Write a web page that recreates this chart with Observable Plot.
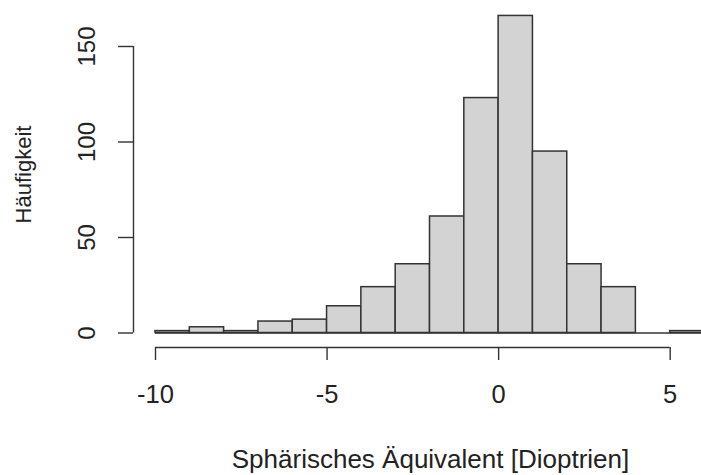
<!DOCTYPE html>
<html><head><meta charset="utf-8">
<script src="https://cdn.jsdelivr.net/npm/d3@7"></script>
<script src="https://cdn.jsdelivr.net/npm/@observablehq/plot@0.6"></script>
<style>body{margin:0;background:#fff}</style>
</head><body><div id="chart"></div>
<script>
const binLower = [-10, -9, -8, -7, -6, -5, -4, -3, -2, -1, 0, 1, 2, 3, 4, 5];
const binUpper = [-9, -8, -7, -6, -5, -4, -3, -2, -1, 0, 1, 2, 3, 4, 5, 6];
const counts   = [1, 3, 1, 6, 7, 14, 24, 36, 61, 123, 166, 95, 36, 24, 0, 1];
const xTicks = [-10, -5, 0, 5];
const yTicks = [0, 50, 100, 150];
const xLabel = "Sphärisches Äquivalent [Dioptrien]";
const yLabel = "Häufigkeit";

const bars = binLower.map((lo, i) => ({x1: lo, x2: binUpper[i], count: counts[i]}));
const ink = "#333";
const font = "'Liberation Sans', Arial, sans-serif";

const chart = Plot.plot({
  width: 701, height: 475,
  marginLeft: 133, marginRight: 0, marginTop: 1, marginBottom: 128,
  style: {fontFamily: font, fontSize: "25px", color: "#222", background: "#fff", overflow: "hidden"},
  x: {domain: [binLower[0], binUpper[binUpper.length - 1]], range: [155, 704]},
  y: {domain: [yTicks[0], yTicks[yTicks.length - 1]], range: [332.5, 46]},
  marks: [
    Plot.rect(bars, {x1: "x1", x2: "x2", y1: 0, y2: "count", fill: "#d3d3d3", stroke: ink, strokeWidth: 1.5}),
    Plot.ruleY([0], {x1: binLower[0], x2: binUpper[binUpper.length - 1], stroke: ink, strokeWidth: 1.5}),
    Plot.ruleY([0], {x1: xTicks[0], x2: xTicks[xTicks.length - 1], dy: 14.5, stroke: ink, strokeWidth: 1.4}),
    Plot.axisX(xTicks, {tickSize: 13, tickPadding: 24, fontSize: 25.5, tickFormat: d => String(d), stroke: ink, strokeWidth: 1.4, fill: "#222", label: null}),
    Plot.ruleX([xTicks[0]], {y1: yTicks[0], y2: yTicks[yTicks.length - 1], dx: -22, stroke: ink, strokeWidth: 1.4}),
    Plot.axisY(yTicks, {tickSize: 15, tickFormat: () => "", stroke: ink, strokeWidth: 1.4, label: null}),
    Plot.text(yTicks, {y: d => d, text: d => String(d), frameAnchor: "left", rotate: -90, dx: -39, textAnchor: "middle", lineAnchor: "bottom", fontSize: 24, fill: "#222"}),
    Plot.text([xLabel], {frameAnchor: "bottom", dx: 13, dy: 112, textAnchor: "middle", lineAnchor: "middle", fontSize: 26, fill: "#222"}),
    Plot.text([yLabel], {frameAnchor: "left", rotate: -90, dx: -110, textAnchor: "middle", lineAnchor: "middle", fontSize: 22, fill: "#222"})
  ]
});
document.getElementById("chart").append(chart);
</script>
</body></html>
